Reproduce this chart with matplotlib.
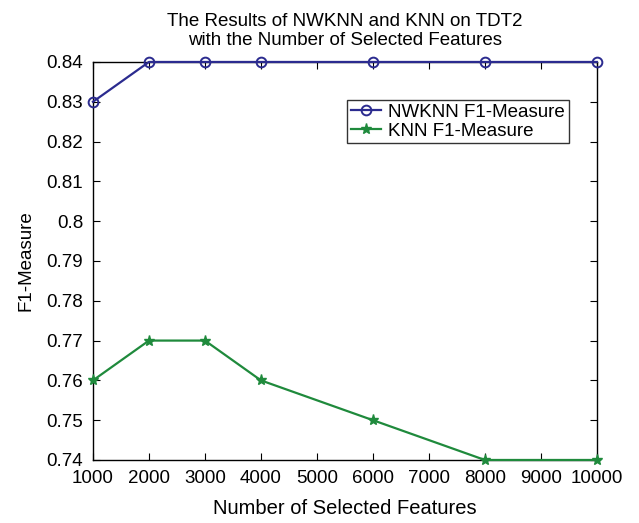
import matplotlib
matplotlib.use("Agg")
import matplotlib.pyplot as plt

plt.rcParams['font.family'] = ['Liberation Sans', 'DejaVu Sans']

# ── Daten ─────────────────────────────────────────────────────────────────────
features = [1000, 2000, 3000, 4000, 6000, 8000, 10000]
nwknn_f1 = [0.83, 0.84, 0.84, 0.84, 0.84, 0.84, 0.84]
knn_f1   = [0.76, 0.77, 0.77, 0.76, 0.75, 0.74, 0.74]
x_ticks  = [1000, 2000, 3000, 4000, 5000, 6000, 7000, 8000, 9000, 10000]
y_ticks  = [0.74, 0.75, 0.76, 0.77, 0.78, 0.79, 0.8, 0.81, 0.82, 0.83, 0.84]

fig = plt.figure(figsize=(6.39, 5.23), dpi=100)
ax = fig.add_axes([0.1455, 0.1205, 0.7885, 0.761])

ax.plot(features, nwknn_f1, color="#2b2b8f", lw=1.6, marker="o", ms=7,
        mfc="none", mew=1.4, label="NWKNN F1-Measure", clip_on=False, zorder=3)
ax.plot(features, knn_f1, color="#1f8a3c", lw=1.6, marker="*", ms=8,
        label="KNN F1-Measure", clip_on=False, zorder=3)

ax.set_xlim(1000, 10000); ax.set_ylim(0.74, 0.84)
ax.set_xticks(x_ticks); ax.set_yticks(y_ticks)
ax.set_xticklabels([str(v) for v in x_ticks])
ax.set_yticklabels([f"{v:g}" for v in y_ticks])
ax.tick_params(direction="in", length=5, labelsize=13.5, top=True, right=True)
ax.tick_params(axis="x", pad=7)
ax.tick_params(axis="y", pad=7)
for s in ax.spines.values(): s.set_linewidth(1.0)

ax.set_xlabel("Number of Selected Features", fontsize=14.5, labelpad=9)
ax.set_ylabel("F1-Measure", fontsize=13.5, labelpad=9)
ax.set_title("The Results of NWKNN and KNN on TDT2\nwith the Number of Selected Features",
             fontsize=13.5, pad=12)

leg = ax.legend(loc="upper left", bbox_to_anchor=(0.504, 0.905), fontsize=13.5,
                frameon=True, fancybox=False, edgecolor="black",
                handlelength=1.6, borderpad=0.2, labelspacing=0.1,
                handletextpad=0.4, borderaxespad=0)
leg.get_frame().set_linewidth(1.0)

fig.savefig("out.png", dpi=100)
